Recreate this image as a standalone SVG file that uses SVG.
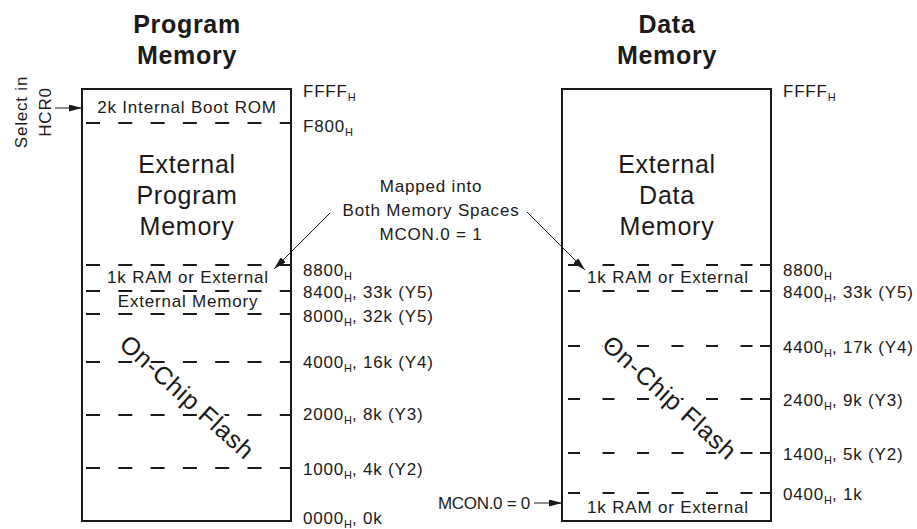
<svg xmlns="http://www.w3.org/2000/svg" width="917" height="529" viewBox="0 0 917 529">
<style>
  text { font-family: "Liberation Sans", Arial, Helvetica, sans-serif; fill: #1a1a1a; }
  .title { font-size: 25px; font-weight: bold; letter-spacing: 0.7px; text-anchor: middle; }
  .big { font-size: 25px; letter-spacing: 0.75px; text-anchor: middle; }
  .sm { font-size: 17px; letter-spacing: 0.8px; }
  .mid { text-anchor: middle; }
  .sub { font-size: 11px; letter-spacing: 0; }
  .flash { font-size: 25px; letter-spacing: 0.75px; text-anchor: middle; stroke: #fff; stroke-width: 4px; paint-order: stroke; stroke-linejoin: round; }
  .box { fill: #fff; stroke: #1a1a1a; stroke-width: 2; }
  .dl { stroke: #1a1a1a; stroke-width: 2; stroke-dasharray: 14 18.3; }
  .dr { stroke: #1a1a1a; stroke-width: 2; stroke-dasharray: 12 22.5; }
  .ds { stroke: #1a1a1a; stroke-width: 2; }
  .conn { stroke: #1a1a1a; stroke-width: 1; fill: none; marker-end: url(#ah); }
</style>
<defs>
  <marker id="ah" viewBox="0 0 13 7" refX="13" refY="3.5" markerWidth="13" markerHeight="7" markerUnits="userSpaceOnUse" orient="auto">
    <path d="M0,0 L13,3.5 L0,7 Z" fill="#1a1a1a"/>
  </marker>
</defs>
<rect width="917" height="529" fill="#fff"/>

<g id="program-memory-title">
  <text class="title" x="187" y="33">Program</text>
  <text class="title" x="187" y="64">Memory</text>
</g>
<g id="data-memory-title">
  <text class="title" x="667" y="33">Data</text>
  <text class="title" x="667" y="64">Memory</text>
</g>

<g id="program-memory">
  <rect class="box" x="82" y="89" width="209" height="432"/>
  <line class="dl" x1="86" y1="123" x2="290" y2="123"/>
  <line class="dl" x1="86" y1="265" x2="290" y2="265"/>
  <line class="dl" x1="86" y1="291" x2="290" y2="291"/>
  <line class="dl" x1="86" y1="314" x2="290" y2="314"/>
  <line class="dl" x1="86" y1="362" x2="290" y2="362"/>
  <line class="dl" x1="86" y1="415" x2="290" y2="415"/>
  <line class="dl" x1="86" y1="468" x2="290" y2="468"/>
  <text class="sm mid" x="187" y="113">2k Internal Boot ROM</text>
  <text class="big" x="187" y="173">External</text>
  <text class="big" x="187" y="204">Program</text>
  <text class="big" x="187" y="235">Memory</text>
  <text class="sm mid" x="188" y="283">1k RAM or External</text>
  <text class="sm mid" x="188" y="307">External Memory</text>
  <text class="flash" transform="translate(181.5,403.5) rotate(42)">On-Chip Flash</text>
</g>

<g id="data-memory">
  <rect class="box" x="562" y="89" width="209" height="432"/>
  <line class="dr" x1="568" y1="265" x2="753" y2="265"/>
  <line class="ds" x1="760" y1="265" x2="770" y2="265"/>
  <line class="dr" x1="568" y1="291" x2="753" y2="291"/>
  <line class="ds" x1="760" y1="291" x2="770" y2="291"/>
  <line class="dr" x1="568" y1="346" x2="753" y2="346"/>
  <line class="ds" x1="760" y1="346" x2="770" y2="346"/>
  <line class="dr" x1="568" y1="399" x2="753" y2="399"/>
  <line class="ds" x1="760" y1="399" x2="770" y2="399"/>
  <line class="dr" x1="568" y1="453" x2="753" y2="453"/>
  <line class="ds" x1="760" y1="453" x2="770" y2="453"/>
  <line class="dr" x1="568" y1="493" x2="753" y2="493"/>
  <line class="ds" x1="760" y1="493" x2="770" y2="493"/>
  <text class="big" x="667" y="173">External</text>
  <text class="big" x="667" y="204">Data</text>
  <text class="big" x="667" y="235">Memory</text>
  <text class="sm mid" x="668" y="283">1k RAM or External</text>
  <text class="flash" transform="translate(664,404) rotate(42)">On-Chip Flash</text>
  <text class="sm mid" x="668" y="513">1k RAM or External</text>
</g>

<g id="program-addresses">
  <text class="sm" x="303" y="97">FFFF<tspan class="sub" dy="4">H</tspan></text>
  <text class="sm" x="303" y="132">F800<tspan class="sub" dy="4">H</tspan></text>
  <text class="sm" x="303" y="276">8800<tspan class="sub" dy="4">H</tspan></text>
  <text class="sm" x="303" y="298">8400<tspan class="sub" dy="4">H</tspan><tspan dy="-4">, 33k (Y5)</tspan></text>
  <text class="sm" x="303" y="322">8000<tspan class="sub" dy="4">H</tspan><tspan dy="-4">, 32k (Y5)</tspan></text>
  <text class="sm" x="303" y="368">4000<tspan class="sub" dy="4">H</tspan><tspan dy="-4">, 16k (Y4)</tspan></text>
  <text class="sm" x="303" y="420">2000<tspan class="sub" dy="4">H</tspan><tspan dy="-4">, 8k (Y3)</tspan></text>
  <text class="sm" x="303" y="475">1000<tspan class="sub" dy="4">H</tspan><tspan dy="-4">, 4k (Y2)</tspan></text>
  <text class="sm" x="303" y="524">0000<tspan class="sub" dy="4">H</tspan><tspan dy="-4">, 0k</tspan></text>
</g>

<g id="data-addresses">
  <text class="sm" x="783" y="97">FFFF<tspan class="sub" dy="4">H</tspan></text>
  <text class="sm" x="783" y="276">8800<tspan class="sub" dy="4">H</tspan></text>
  <text class="sm" x="783" y="298">8400<tspan class="sub" dy="4">H</tspan><tspan dy="-4">, 33k (Y5)</tspan></text>
  <text class="sm" x="783" y="353">4400<tspan class="sub" dy="4">H</tspan><tspan dy="-4">, 17k (Y4)</tspan></text>
  <text class="sm" x="783" y="406">2400<tspan class="sub" dy="4">H</tspan><tspan dy="-4">, 9k (Y3)</tspan></text>
  <text class="sm" x="783" y="460">1400<tspan class="sub" dy="4">H</tspan><tspan dy="-4">, 5k (Y2)</tspan></text>
  <text class="sm" x="783" y="500">0400<tspan class="sub" dy="4">H</tspan><tspan dy="-4">, 1k</tspan></text>
</g>

<g id="mapped-note">
  <text class="sm mid" x="431" y="192">Mapped into</text>
  <text class="sm mid" x="431" y="216">Both Memory Spaces</text>
  <text class="sm mid" x="431" y="240">MCON.0 = 1</text>
</g>

<g id="select-hcr0">
  <text class="sm mid" transform="translate(27,112) rotate(-90)">Select in</text>
  <text class="sm mid" transform="translate(51,112) rotate(-90)">HCR0</text>
</g>

<g id="mcon0-note">
  <text class="sm" x="438" y="509" textLength="93" lengthAdjust="spacing">MCON.0 = 0</text>
</g>

<g id="connectors">
  <line class="conn" x1="55" y1="108" x2="82" y2="108"/>
  <line class="conn" x1="330" y1="213" x2="274" y2="269"/>
  <line class="conn" x1="527" y1="212" x2="585" y2="270"/>
  <line class="conn" x1="534" y1="503" x2="562" y2="503"/>
</g>
</svg>
